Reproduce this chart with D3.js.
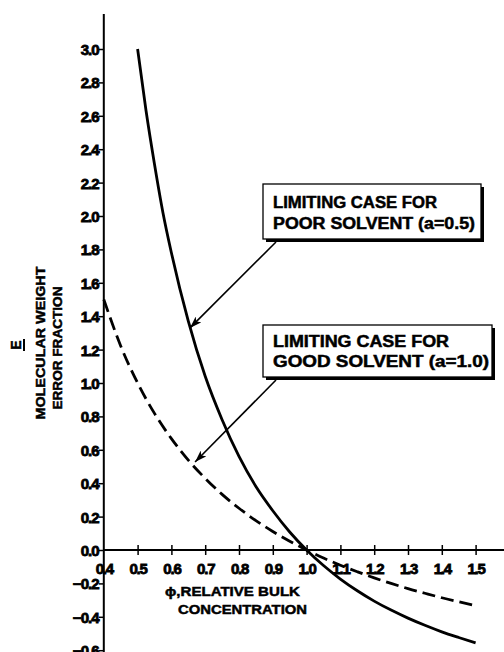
<!DOCTYPE html>
<html>
<head>
<meta charset="utf-8">
<script src="https://cdn.jsdelivr.net/npm/d3@7"></script>
<style>
  html, body { margin: 0; padding: 0; background: #fff; }
  svg { display: block; }
  text { font-family: "Liberation Sans", Arial, sans-serif; font-weight: 700; fill: #000; }
</style>
</head>
<body>
<svg id="chart" width="504" height="652"></svg>
<script>
// ---- data ----
const phiPoor = [0.5, 0.525, 0.55, 0.575, 0.6, 0.65, 0.7, 0.75, 0.8, 0.85, 0.9, 0.95, 1.0, 1.05, 1.1, 1.15, 1.2, 1.25, 1.3, 1.35, 1.4, 1.45, 1.5];
const errPoor = [3.0, 2.63, 2.31, 2.02, 1.78, 1.37, 1.04, 0.78, 0.56, 0.38, 0.235, 0.108, 0.0, -0.093, -0.174, -0.244, -0.306, -0.36, -0.408, -0.451, -0.49, -0.524, -0.556];
const phiGood = [0.4, 0.45, 0.5, 0.55, 0.6, 0.65, 0.7, 0.75, 0.8, 0.85, 0.9, 0.95, 1.0, 1.05, 1.1, 1.15, 1.2, 1.25, 1.3, 1.35, 1.4, 1.45, 1.5];
const errGood = [1.5, 1.222, 1.0, 0.818, 0.667, 0.538, 0.429, 0.333, 0.25, 0.176, 0.111, 0.053, 0.0, -0.048, -0.091, -0.13, -0.167, -0.2, -0.231, -0.259, -0.286, -0.31, -0.333];
const xTicks = [0.4, 0.5, 0.6, 0.7, 0.8, 0.9, 1.0, 1.1, 1.2, 1.3, 1.4, 1.5];
const yTicks = [3.0, 2.8, 2.6, 2.4, 2.2, 2.0, 1.8, 1.6, 1.4, 1.2, 1.0, 0.8, 0.6, 0.4, 0.2, 0.0, -0.2, -0.4, -0.6];
const yTitle = ["E", "MOLECULAR WEIGHT", "ERROR FRACTION"];
const xTitle = ["\u03D5,RELATIVE BULK", "CONCENTRATION"];
const notePoor = ["LIMITING CASE FOR", "POOR SOLVENT (a=0.5)"];
const noteGood = ["LIMITING CASE  FOR", "GOOD SOLVENT (a=1.0)"];
const notePoorTarget = [0.655, 1.33];
const noteGoodTarget = [0.67, 0.527];

// ---- scales ----
const svg = d3.select("#chart");
const x = d3.scaleLinear().domain([0.4, 1.5]).range([103.8, 475.6]);
const y = d3.scaleLinear().domain([-0.6, 3.0]).range([650.2, 49]);

// ---- axes ----
const yAxis = d3.axisLeft(y).tickValues(yTicks).tickSize(5)
  .tickFormat(d => (d < 0 ? "\u2212" : "") + Math.abs(d).toFixed(1));
const gy = svg.append("g").attr("transform", `translate(${x(0.4)},0)`).call(yAxis);
gy.select(".domain").remove();
gy.selectAll(".tick line").attr("stroke", "#000").attr("stroke-width", 1.5);
gy.selectAll(".tick text").attr("x", -5).attr("dy", "0.36em")
  .style("font-size", "15px").style("letter-spacing", "-0.9px")
  .attr("stroke", "#000").attr("stroke-width", 0.8);
svg.append("line").attr("x1", x(0.4)).attr("x2", x(0.4)).attr("y1", 14).attr("y2", 652)
  .attr("stroke", "#000").attr("stroke-width", 2);

const xAxis = d3.axisBottom(x).tickValues(xTicks).tickSize(0).tickFormat(d3.format(".1f"));
const gx = svg.append("g").attr("transform", `translate(0,${y(0)})`).call(xAxis);
gx.select(".domain").remove();
gx.selectAll(".tick text").attr("y", 0).attr("dy", "24px")
  .style("font-size", "15px").style("letter-spacing", "-1.2px")
  .attr("stroke", "#000").attr("stroke-width", 0.8);
gx.selectAll(".tick").filter(d => d > 0.4).append("line")
  .attr("y1", -5).attr("y2", 5).attr("stroke", "#000").attr("stroke-width", 1.5);
svg.append("line").attr("x1", x(0.4)).attr("x2", 504).attr("y1", y(0)).attr("y2", y(0))
  .attr("stroke", "#000").attr("stroke-width", 2);

// ---- axis titles ----
const yt = svg.append("g");
yt.append("text").attr("transform", "translate(21,345) rotate(-90)").attr("text-anchor", "middle")
  .style("font-size", "14px").attr("stroke", "#000").attr("stroke-width", 0.5).text(yTitle[0]);
yt.append("line").attr("x1", 24).attr("x2", 24).attr("y1", 339).attr("y2", 351)
  .attr("stroke", "#000").attr("stroke-width", 2);
yt.append("text").attr("transform", "translate(45,343) rotate(-90)").attr("text-anchor", "middle")
  .attr("textLength", 153).attr("lengthAdjust", "spacingAndGlyphs")
  .attr("stroke", "#000").attr("stroke-width", 0.5)
  .style("font-size", "13.5px").text(yTitle[1]);
yt.append("text").attr("transform", "translate(62,348) rotate(-90)").attr("text-anchor", "middle")
  .attr("textLength", 123).attr("lengthAdjust", "spacingAndGlyphs")
  .attr("stroke", "#000").attr("stroke-width", 0.5)
  .style("font-size", "13.5px").text(yTitle[2]);

svg.append("text").attr("x", 165).attr("y", 596).attr("textLength", 135).attr("lengthAdjust", "spacingAndGlyphs")
  .attr("stroke", "#000").attr("stroke-width", 0.5)
  .style("font-size", "13.5px").text(xTitle[0]);
svg.append("text").attr("x", 178).attr("y", 614).attr("textLength", 129).attr("lengthAdjust", "spacingAndGlyphs")
  .attr("stroke", "#000").attr("stroke-width", 0.5)
  .style("font-size", "13.5px").text(xTitle[1]);

// ---- curves ----
const line = d3.line().x(d => x(d[0])).y(d => y(d[1])).curve(d3.curveMonotoneX);
svg.append("path").datum(phiPoor.map((p, i) => [p, errPoor[i]]))
  .attr("d", line).attr("fill", "none").attr("stroke", "#000").attr("stroke-width", 2.8);
svg.append("path").datum(phiGood.map((p, i) => [p, errGood[i]]))
  .attr("d", line).attr("fill", "none").attr("stroke", "#000").attr("stroke-width", 2.8)
  .attr("stroke-dasharray", "13,6");

// ---- annotation boxes with arrows ----
svg.append("defs").append("marker").attr("id", "arr").attr("viewBox", "0 0 12 8")
  .attr("refX", 12).attr("refY", 4).attr("markerWidth", 12).attr("markerHeight", 8)
  .attr("markerUnits", "userSpaceOnUse").attr("orient", "auto")
  .append("path").attr("d", "M0,0 L12,4 L0,8 L3,4 Z").attr("fill", "#000");

function note(bx, by, bw, bh, lines, widths, base1, base2, from, target) {
  const g = svg.append("g");
  g.append("rect").attr("x", bx + 3).attr("y", by + 3).attr("width", bw).attr("height", bh).attr("fill", "#000");
  g.append("rect").attr("x", bx).attr("y", by).attr("width", bw).attr("height", bh)
    .attr("fill", "#fff").attr("stroke", "#000").attr("stroke-width", 1.3);
  g.append("text").attr("x", bx + 10).attr("y", base1).attr("textLength", widths[0]).attr("lengthAdjust", "spacingAndGlyphs")
    .attr("stroke", "#000").attr("stroke-width", 0.5)
    .style("font-size", "16px").text(lines[0]);
  g.append("text").attr("x", bx + 10).attr("y", base2).attr("textLength", widths[1]).attr("lengthAdjust", "spacingAndGlyphs")
    .attr("stroke", "#000").attr("stroke-width", 0.5)
    .style("font-size", "16px").text(lines[1]);
  g.append("line").attr("x1", from[0]).attr("y1", from[1])
    .attr("x2", x(target[0])).attr("y2", y(target[1]))
    .attr("stroke", "#000").attr("stroke-width", 1.6).attr("marker-end", "url(#arr)");
}
note(263, 184, 218, 55, notePoor, [164, 202], 208, 229, [276, 242], notePoorTarget);
note(263, 325, 229, 52, noteGood, [176, 216], 347, 367, [276, 380], noteGoodTarget);
</script>
</body>
</html>
